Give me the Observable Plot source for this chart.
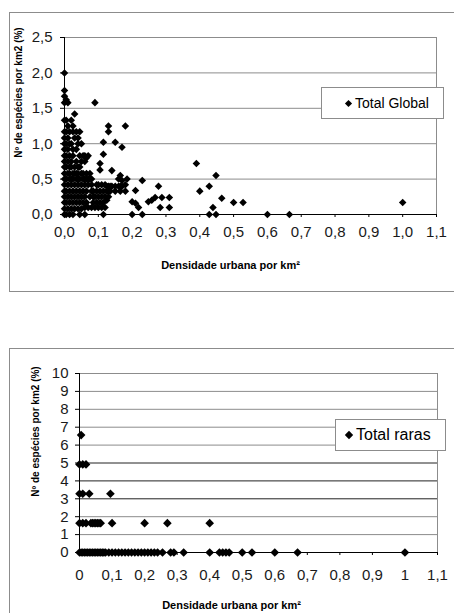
<!DOCTYPE html>
<html><head><meta charset="utf-8">
<script src="https://cdn.jsdelivr.net/npm/d3@7"></script>
<script src="https://cdn.jsdelivr.net/npm/@observablehq/plot@0.6"></script>
<style>
body{margin:0;background:#fff;}
#page{position:relative;width:454px;height:613px;overflow:hidden;font-family:"Liberation Sans",Arial,sans-serif;background:#fff;}
.box{position:absolute;border:1px solid #8c8c8c;}
.chart{position:absolute;left:0;}
.legend{position:absolute;background:#fff;border:1px solid #8c8c8c;display:flex;align-items:center;color:#000;box-sizing:border-box;white-space:nowrap;}
.legend svg{margin-right:2px;}
</style></head><body>
<div id="page">
  <div class="box" style="left:9px;top:12px;width:460px;height:278px;"></div>
  <div class="box" style="left:9px;top:348px;width:460px;height:300px;"></div>
  <div id="c1" class="chart" style="top:0px;"></div>
  <div id="c2" class="chart" style="top:300px;"></div>
  <div class="legend" style="left:321px;top:87px;width:123px;height:32px;padding-left:22px;font-size:14px;">
    <svg width="9" height="9" viewBox="-4.5 -4.5 9 9"><polygon points="0,-3.6 3.6,0 0,3.6 -3.6,0" fill="#000"/></svg>Total Global</div>
  <div class="legend" style="left:335px;top:419px;width:111px;height:32px;padding-left:8px;font-size:16px;">
    <svg width="10" height="10" viewBox="-5 -5 10 10"><polygon points="0,-4.2 4.2,0 0,4.2 -4.2,0" fill="#000"/></svg>Total raras</div>
</div>
<script>
// ---- Chart 1: Total Global ----
const globalColX = [0,0.005,0.01,0.015,0.02,0.025,0.03,0.035,0.04,0.045,0.05,0.055,0.06,0.065,0.07,0.075,0.08,0.085,0.09,0.095,0.1,0.105,0.11,0.115,0.12,0.125,0.13,0.135,0.14,0.15,0.16,0.165,0.17,0.18,0.185,0.2,0.21,0.219,0.23,0.248,0.258,0.268,0.278,0.283,0.288,0.31,0.39,0.4,0.428,0.439,0.448,0.465,0.5,0.528,0.6,0.665,1.0];
const globalColY = [
  [0,0.08,0.17,0.25,0.33,0.42,0.5,0.58,0.67,0.75,0.83,0.92,1.0,1.08,1.17,1.33,1.58,1.67,1.75,2.0],
  [0,0.17,0.33,0.5,0.67,0.83,1.0,1.17,1.33,1.62],
  [0.08,0.25,0.42,0.58,0.75,0.92,1.08,1.25,1.58],
  [0,0.17,0.33,0.5,0.58,0.67,0.83,1.0,1.17],
  [0.08,0.25,0.42,0.5,0.67,0.75,1.0,1.33],
  [0,0.17,0.33,0.5,0.58,0.83,0.92,1.17,1.25],
  [0.08,0.25,0.42,0.58,0.67,1.08,1.42],
  [0.17,0.33,0.5,0.58,0.75,0.92,1.17],
  [0.08,0.25,0.42,0.5,0.58,0.67,1.0,1.08],
  [0,0.17,0.33,0.5,0.67,0.83,1.17],
  [0.08,0.25,0.42,0.58,0.75,1.0],
  [0.17,0.33,0.5,0.58,0.83],
  [0,0.1,0.25,0.42,0.5,0.75,0.83],
  [0.17,0.33,0.5,0.58,0.8],
  [0.1,0.42,0.5,0.83],
  [0.25,0.5,0.58],
  [0.1,0.33,0.42,0.5],
  [0.17,0.25,0.33],
  [0.1,0.25,1.58],
  [0.17,0.33,0.42],
  [0.1,0.25,0.42],
  [0.17,0.33,0.63,0.72],
  [0.1,0.25,0.42],
  [0,0.17,0.33,0.85,1.02],
  [0.1,0.25,0.42],
  [0.2,0.33,0.4],
  [0.25,0.33,0.4,1.17,1.25],
  [0.33,0.4],
  [0.4,0.62],
  [0.33,0.4,1.02],
  [0.4,0.5],
  [0.33,0.4,0.55],
  [0.4,0.48,0.95],
  [0.33,0.42,1.25],
  [0.5],
  [0,0.18],
  [0.16,0.34],
  [0.1],
  [0,0.48],
  [0.18],
  [0.2],
  [0.24],
  [0.4],
  [0.1],
  [0.24],
  [0.1,0.24],
  [0.72],
  [0.33],
  [0,0.4],
  [0.1],
  [0,0.55],
  [0.23],
  [0.17],
  [0.17],
  [0],
  [0],
  [0.17]
];
const topYTicks = [0,0.5,1,1.5,2,2.5];
const topYLabels = ["0,0","0,5","1,0","1,5","2,0","2,5"];
const topXTicks = [0,0.1,0.2,0.3,0.4,0.5,0.6,0.7,0.8,0.9,1.0,1.1];
const topXLabels = ["0,0","0,1","0,2","0,3","0,4","0,5","0,6","0,7","0,8","0,9","1,0","1,1"];

// ---- Chart 2: Total raras ----
const rarasLevels = [0,1.64,3.28,4.92,6.56];
const rarasLevelX = [
  [0,0.005,0.01,0.015,0.02,0.025,0.03,0.035,0.04,0.045,0.05,0.055,0.06,0.065,0.07,0.075,0.08,0.09,0.1,0.11,0.12,0.13,0.14,0.15,0.16,0.17,0.18,0.19,0.2,0.21,0.22,0.23,0.24,0.255,0.28,0.29,0.32,0.4,0.43,0.44,0.45,0.46,0.5,0.53,0.6,0.67,1.0],
  [0,0.01,0.02,0.035,0.04,0.045,0.05,0.055,0.06,0.065,0.1,0.2,0.27,0.4],
  [0,0.01,0.03,0.095],
  [0,0.01,0.02],
  [0.005]
];
const botYTicks = [0,1,2,3,4,5,6,7,8,9,10];
const botYLabels = ["0","1","2","3","4","5","6","7","8","9","10"];
const botXTicks = [0,0.1,0.2,0.3,0.4,0.5,0.6,0.7,0.8,0.9,1.0,1.1];
const botXLabels = ["0","0,1","0,2","0,3","0,4","0,5","0,6","0,7","0,8","0,9","1","1,1"];
const darkGrid = [3,4,5];

const globalData = globalColX.flatMap((x, i) => globalColY[i].map(y => ({x, y})));
const rarasData = rarasLevels.flatMap((y, i) => rarasLevelX[i].map(x => ({x, y})));

const fmt = (ticks, labels) => d => labels[ticks.indexOf(d)];
const font = "'Liberation Sans', Arial, sans-serif";

const chart1 = Plot.plot({
  width: 454, height: 300,
  marginLeft: 64, marginRight: 18, marginTop: 37, marginBottom: 86,
  style: {fontFamily: font, fontSize: "15px", color: "#1a1a1a", background: "transparent", overflow: "visible"},
  x: {domain: [0, 1.1]},
  y: {domain: [0, 2.5]},
  marks: [
    Plot.gridY(topYTicks, {stroke: "#8c8c8c", strokeOpacity: 1}),
    Plot.ruleX([1.1], {stroke: "#8c8c8c"}),
    Plot.axisY(topYTicks, {tickFormat: fmt(topYTicks, topYLabels), tickSize: 4, tickPadding: 8, label: null, stroke: "#000"}),
    Plot.axisX(topXTicks, {tickFormat: fmt(topXTicks, topXLabels), tickSize: 3, tickPadding: 9, label: null, stroke: "#000"}),
    Plot.ruleX([0], {stroke: "#000"}),
    Plot.ruleY([0], {stroke: "#000"}),
    Plot.dot(globalData, {x: "x", y: "y", symbol: "diamond2", r: 3.4, fill: "#000", stroke: null}),
    Plot.text(["Nº de espécies por km2 (%)"], {text: d => d, frameAnchor: "left", rotate: -90, dx: -45.5, dy: -33.5, textAnchor: "middle", lineAnchor: "middle", fontSize: 10, fontWeight: "bold", fill: "#000"}),
    Plot.text(["Densidade urbana por km²"], {text: d => d, frameAnchor: "bottom", dx: -20, dy: 51, textAnchor: "middle", lineAnchor: "middle", fontSize: 11, fontWeight: "bold", fill: "#000"})
  ]
});
document.getElementById("c1").append(chart1);

const chart2 = Plot.plot({
  width: 454, height: 313,
  marginLeft: 79, marginRight: 17, marginTop: 73, marginBottom: 61,
  style: {fontFamily: font, fontSize: "15px", color: "#1a1a1a", background: "transparent", overflow: "visible"},
  x: {domain: [0, 1.1]},
  y: {domain: [0, 10]},
  marks: [
    Plot.gridY(botYTicks.filter(d => !darkGrid.includes(d)), {stroke: "#8c8c8c", strokeOpacity: 1}),
    Plot.gridY(darkGrid, {stroke: "#222", strokeOpacity: 1}),
    Plot.ruleX([1.1], {stroke: "#8c8c8c"}),
    Plot.axisY(botYTicks, {tickFormat: fmt(botYTicks, botYLabels), tickSize: 4, tickPadding: 7, label: null, stroke: "#000"}),
    Plot.axisX(botXTicks, {tickFormat: fmt(botXTicks, botXLabels), tickSize: 3, tickPadding: 14, label: null, stroke: "#000"}),
    Plot.ruleX([0], {stroke: "#000"}),
    Plot.ruleY([0], {stroke: "#000"}),
    Plot.dot(rarasData, {x: "x", y: "y", symbol: "diamond2", r: 3.9, fill: "#000", stroke: null}),
    Plot.text(["Nº de espécies por km2 (%)"], {text: d => d, frameAnchor: "left", rotate: -90, dx: -44, dy: -31.5, textAnchor: "middle", lineAnchor: "middle", fontSize: 10, fontWeight: "bold", fill: "#000"}),
    Plot.text(["Densidade urbana por km²"], {text: d => d, frameAnchor: "bottom", dx: -27, dy: 53, textAnchor: "middle", lineAnchor: "middle", fontSize: 11, fontWeight: "bold", fill: "#000"})
  ]
});
document.getElementById("c2").append(chart2);
</script>
</body></html>
